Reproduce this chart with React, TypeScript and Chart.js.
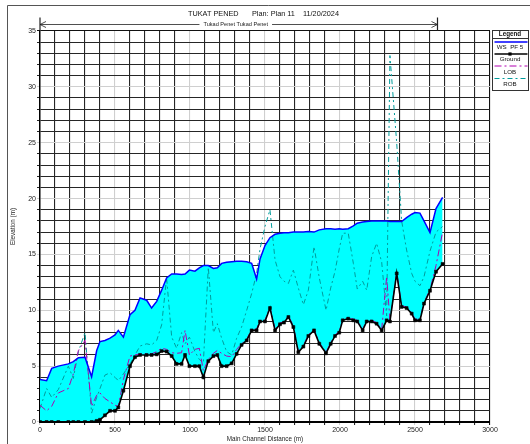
import { useEffect, useRef } from "react";
import { Chart, registerables } from "chart.js";
Chart.register(...registerables);

const STATIONS = [
  0, 44, 78, 122, 189, 222, 256, 300, 344, 378,
  400, 433, 467, 500, 522, 556, 600, 633, 667, 711,
  744, 778, 811, 844, 878, 911, 944, 967, 996, 1033,
  1062, 1089, 1122, 1156, 1182, 1211, 1244, 1278, 1311, 1344,
  1378, 1411, 1444, 1467, 1500, 1533, 1567, 1600, 1627, 1656,
  1689, 1722, 1756, 1789, 1827, 1862, 1907, 1938, 1967, 1995,
  2018, 2055, 2089, 2115, 2151, 2178, 2211, 2244, 2278, 2311,
  2333, 2378, 2411, 2444, 2478, 2500, 2533, 2560, 2600, 2640,
  2684,
];
const GROUND = [
  0, 0, 0, 0, 0, 0, 0, 0, 0, 0.1,
  0.2, 0.6, 1.0, 1.0, 1.3, 2.8, 5.0, 5.8, 6.0, 6.0,
  6.0, 6.05, 6.35, 6.3, 5.9, 5.2, 5.2, 6.0, 5.0, 5.0,
  5.0, 4.0, 5.45, 5.9, 6.0, 5.0, 5.0, 5.25, 6.1, 6.9,
  7.3, 8.2, 8.2, 9.0, 9.0, 10.2, 8.2, 8.75, 8.9, 9.4,
  8.5, 6.25, 6.75, 7.7, 8.2, 7.0, 6.15, 7.0, 7.7, 8.0,
  9.1, 9.25, 9.1, 9.0, 8.2, 9.0, 9.0, 8.8, 8.2, 9.1,
  9.0, 13.3, 10.3, 10.2, 9.7, 9.1, 9.1, 10.6, 11.75, 13.45,
  14.15,
];
const WS_PF5 = [
  3.8, 3.7, 4.8, 5.0, 5.2, 5.4, 5.75, 5.8, 4.05, 6.4,
  7.2, 7.3, 7.5, 7.8, 8.2, 7.6, 9.6, 10.0, 11.1, 10.9,
  10.2, 10.8, 11.8, 12.9, 13.25, 13.25, 13.2, 13.25, 13.6, 13.5,
  13.8, 14.0, 14.0, 13.75, 13.8, 14.2, 14.3, 14.35, 14.4, 14.4,
  14.35, 14.2, 12.8, 14.6, 15.8, 16.5, 16.8, 16.9, 16.95, 16.95,
  17.0, 17.0, 17.0, 17.05, 17.0, 17.2, 17.3, 17.3, 17.25, 17.3,
  17.25, 17.3, 17.55, 17.8, 17.9, 17.95, 18.0, 18.0, 18.0, 18.0,
  17.95, 17.95, 17.95, 18.3, 18.6, 18.75, 18.7, 18.0, 16.95, 19.1,
  20.1,
];
const LOB = [
  1.5, 1.0, 1.4, 2.6, 3.0, 4.3, 6.4, 7.3, 1.4, 2.4,
  2.6, 2.1, 1.8, 1.5, 1.4, 3.8, 5.9, 6.0, 6.1, 6.1,
  6.1, 6.3, 6.6, 6.5, 6.2, 6.15, 6.2, 8.2, 6.0, 6.5,
  6.6, 4.6, 5.6, 6.15, 6.4, 6.15, 5.9, 5.85, 6.5, 7.0,
  7.4, 8.3, 8.3, 9.1, 9.1, 10.3, 8.3, 8.85, 9.0, 9.5,
  8.6, 6.35, 6.85, 7.8, 8.3, 7.1, 6.25, 7.1, 7.8, 8.1,
  9.2, 9.35, 9.2, 9.1, 8.3, 9.1, 9.1, 8.9, 8.3, 13.0,
  9.1, 13.4, 10.4, 10.3, 9.8, 9.2, 9.2, 10.7, 11.85, 14.0,
  17.0,
];
const ROB = [
  1.2, 3.0, 2.2, 2.9, 5.0, 3.9, 6.3, 8.0, 0.8, 2.2,
  3.0, 4.2, 4.4, 4.0, 3.7, 4.3, 5.2, 6.0, 6.8, 7.0,
  6.9, 7.3, 8.7, 12.9, 7.6, 6.6, 8.0, 7.0, 7.6, 6.3,
  5.6, 5.3, 13.85, 8.0, 8.8, 7.5, 6.3, 6.0, 7.5, 8.5,
  10.0, 11.5, 13.3, 15.5, 17.5, 19.0, 14.5, 13.0, 12.6, 12.4,
  13.6, 12.0, 10.5, 11.8, 15.7, 12.9, 10.0, 12.0, 13.5, 15.5,
  16.9, 16.9, 14.2, 11.9, 12.6, 11.8, 14.8, 16.0, 14.3, 9.5,
  32.8, 25.0, 18.0, 15.4, 13.3, 12.6, 12.2, 13.0, 15.3, 17.0,
  17.5,
];
const X_TICK_LABELS = [0, 500, 1000, 1500, 2000, 2500, 3000];
const Y_TICK_LABELS = [0, 5, 10, 15, 20, 25, 30, 35];
const TITLE_PARTS = ["TUKAT PENED", "Plan: Plan 11", "11/20/2024"];
const REACH_LABEL = "Tukad Penet Tukad Penet";
const REACH_END = 2650;
const X_TITLE = "Main Channel Distance (m)";
const Y_TITLE = "Elevation (m)";
const LEGEND_TITLE = "Legend";
const SERIES_NAMES = ["WS  PF 5", "Ground", "LOB", "ROB"];

const FONT = "'Liberation Sans', Arial, sans-serif";
const C_WS = "#0000ff";
const C_GROUND = "#000000";
const C_LOB = "#b000b0";
const C_ROB = "#009c9c";
const DASH_LOB = [7, 3, 2, 3];
const DASH_ROB = [5, 3, 2, 3];

const pts = (ys: number[]) => STATIONS.map((x, i) => ({ x, y: ys[i] }));

const overlay = {
  id: "overlay",
  afterDatasetsDraw(chart: any) {
    const { ctx, chartArea } = chart;
    ctx.save();
    ctx.strokeStyle = "#000";
    ctx.lineWidth = 2;
    ctx.beginPath();
    ctx.moveTo(chartArea.left, chartArea.bottom);
    ctx.lineTo(chartArea.right, chartArea.bottom);
    ctx.stroke();
    ctx.restore();
  },
  afterDraw(chart: any) {
    const { ctx, chartArea, scales } = chart;
    ctx.save();
    // outer frame
    ctx.strokeStyle = "#555";
    ctx.lineWidth = 1;
    ctx.beginPath();
    ctx.moveTo(7.5, 444);
    ctx.lineTo(7.5, 5.5);
    ctx.lineTo(530, 5.5);
    ctx.stroke();

    // title
    ctx.fillStyle = "#111";
    ctx.font = `7.3px ${FONT}`;
    ctx.textBaseline = "alphabetic";
    ctx.textAlign = "left";
    const tx = [188, 252, 303];
    TITLE_PARTS.forEach((t, i) => ctx.fillText(t, tx[i], 15.8));

    // reach line
    const x0 = scales.x.getPixelForValue(0);
    const x1 = scales.x.getPixelForValue(REACH_END);
    const ry = 24.5;
    ctx.font = `5.6px ${FONT}`;
    const tw = ctx.measureText(REACH_LABEL).width;
    const cx = (x0 + x1) / 2 - 3;
    ctx.strokeStyle = "#222";
    ctx.lineWidth = 0.8;
    ctx.beginPath();
    ctx.moveTo(x0, ry);
    ctx.lineTo(cx - tw / 2 - 4, ry);
    ctx.moveTo(cx + tw / 2 + 4, ry);
    ctx.lineTo(x1, ry);
    ctx.moveTo(x0 + 6, ry - 3);
    ctx.lineTo(x0, ry);
    ctx.lineTo(x0 + 6, ry + 3);
    ctx.moveTo(x1 - 6, ry - 3);
    ctx.lineTo(x1, ry);
    ctx.lineTo(x1 - 6, ry + 3);
    ctx.stroke();
    ctx.lineWidth = 1.2;
    ctx.beginPath();
    ctx.moveTo(x0, 17.5);
    ctx.lineTo(x0, 30.5);
    ctx.moveTo(x1, 17.5);
    ctx.lineTo(x1, 30.5);
    ctx.stroke();
    ctx.fillStyle = "#222";
    ctx.textAlign = "center";
    ctx.textBaseline = "middle";
    ctx.fillText(REACH_LABEL, cx, ry);

    // axis titles
    ctx.font = `6.3px ${FONT}`;
    ctx.fillStyle = "#222";
    ctx.fillText(X_TITLE, (chartArea.left + chartArea.right) / 2, 439);
    ctx.save();
    ctx.translate(13, (chartArea.top + chartArea.bottom) / 2);
    ctx.rotate(-Math.PI / 2);
    ctx.fillText(Y_TITLE, 0, 0);
    ctx.restore();

    // legend
    const lx = 492.5, ly = 30.5, lw = 36, lh = 60;
    ctx.fillStyle = "#fff";
    ctx.fillRect(lx, ly, lw, lh);
    ctx.strokeStyle = "#333";
    ctx.lineWidth = 1;
    ctx.strokeRect(lx, ly, lw, lh);
    ctx.beginPath();
    ctx.moveTo(lx, 38.5);
    ctx.lineTo(lx + lw, 38.5);
    ctx.stroke();
    const lcx = 510;
    ctx.fillStyle = "#111";
    ctx.font = `bold 6.3px ${FONT}`;
    ctx.fillText(LEGEND_TITLE, lcx, 34.5);
    ctx.font = `6.2px ${FONT}`;
    const rows = [
      { y: 42, ty: 47.5, color: C_WS, w: 1.5, dash: [] as number[], marker: false },
      { y: 54, ty: 59.5, color: C_GROUND, w: 1.5, dash: [] as number[], marker: true },
      { y: 66, ty: 72, color: C_LOB, w: 1, dash: DASH_LOB, marker: false },
      { y: 78.5, ty: 84.5, color: C_ROB, w: 1, dash: DASH_ROB, marker: false },
    ];
    rows.forEach((r, i) => {
      ctx.strokeStyle = r.color;
      ctx.lineWidth = r.w;
      ctx.setLineDash(r.dash);
      ctx.beginPath();
      ctx.moveTo(lx + 2, r.y);
      ctx.lineTo(lx + lw - 1, r.y);
      ctx.stroke();
      ctx.setLineDash([]);
      if (r.marker) {
        ctx.fillStyle = "#000";
        ctx.fillRect(lcx - 1.6, r.y - 1.6, 3.2, 3.2);
      }
      ctx.fillStyle = "#111";
      ctx.fillText(SERIES_NAMES[i], lcx, r.ty);
    });
    ctx.restore();
  },
};

export default function App() {
  const ref = useRef<HTMLCanvasElement | null>(null);
  useEffect(() => {
    if (!ref.current) return;
    const gridColor = (max: number, step: number) => (c: any) => {
      const v = c.tick?.value;
      if (v === max) return "#111";
      return v % step === 0 ? "#cfcfcf" : "#262626";
    };
    const chart = new Chart(ref.current, {
      type: "line",
      data: {
        datasets: [
          {
            label: SERIES_NAMES[0],
            data: pts(WS_PF5),
            borderColor: C_WS,
            borderWidth: 1.5,
            backgroundColor: "#00ffff",
            pointRadius: 0,
            fill: 1,
            order: 1,
          },
          {
            label: SERIES_NAMES[1],
            data: pts(GROUND),
            borderColor: C_GROUND,
            borderWidth: 1.6,
            pointStyle: "rect",
            pointRadius: 2.1,
            pointBackgroundColor: "#000",
            pointBorderColor: "#000",
            pointBorderWidth: 0.5,
            fill: false,
            order: 0,
          },
          {
            label: SERIES_NAMES[2],
            data: pts(LOB),
            borderColor: C_LOB,
            borderWidth: 1,
            borderDash: DASH_LOB,
            pointRadius: 0,
            fill: false,
            order: 2,
          },
          {
            label: SERIES_NAMES[3],
            data: pts(ROB),
            borderColor: C_ROB,
            borderWidth: 1,
            borderDash: DASH_ROB,
            pointRadius: 0,
            fill: false,
            order: 3,
          },
        ],
      },
      options: {
        animation: false,
        responsive: true,
        maintainAspectRatio: false,
        layout: { padding: { left: 0, top: 31, right: 40, bottom: 0 } },
        plugins: {
          legend: { display: false },
          tooltip: { enabled: false },
          filler: { drawTime: "beforeDatasetsDraw" },
        } as any,
        elements: { line: { tension: 0 } },
        scales: {
          x: {
            type: "linear",
            min: 0,
            max: 3000,
            afterFit: (s: any) => {
              s.height = 22;
            },
            ticks: {
              stepSize: 100,
              autoSkip: false,
              maxRotation: 0,
              padding: 1,
              color: "#222",
              font: { family: FONT, size: 7 },
              callback: (v: any) => (X_TICK_LABELS.includes(Number(v)) ? String(v) : ""),
            },
            grid: { color: gridColor(3000, 500), lineWidth: 1.1, tickLength: 3 },
            border: { display: true, color: "#000", width: 2 },
          },
          y: {
            type: "linear",
            min: 0,
            max: 35,
            afterFit: (s: any) => {
              s.width = 40;
            },
            ticks: {
              stepSize: 1,
              autoSkip: false,
              padding: 1,
              color: "#222",
              font: { family: FONT, size: 7 },
              callback: (v: any) => (Y_TICK_LABELS.includes(Number(v)) ? String(v) : ""),
            },
            grid: { color: gridColor(35, 5), lineWidth: 1.1, tickLength: 3 },
            border: { display: true, color: "#000", width: 1.5 },
          },
        },
      },
      plugins: [overlay],
    });
    return () => chart.destroy();
  }, []);
  return (
    <div style={{ position: "absolute", left: 0, top: 0, width: 530, height: 444, background: "#fff" }}>
      <canvas ref={ref} />
    </div>
  );
}
